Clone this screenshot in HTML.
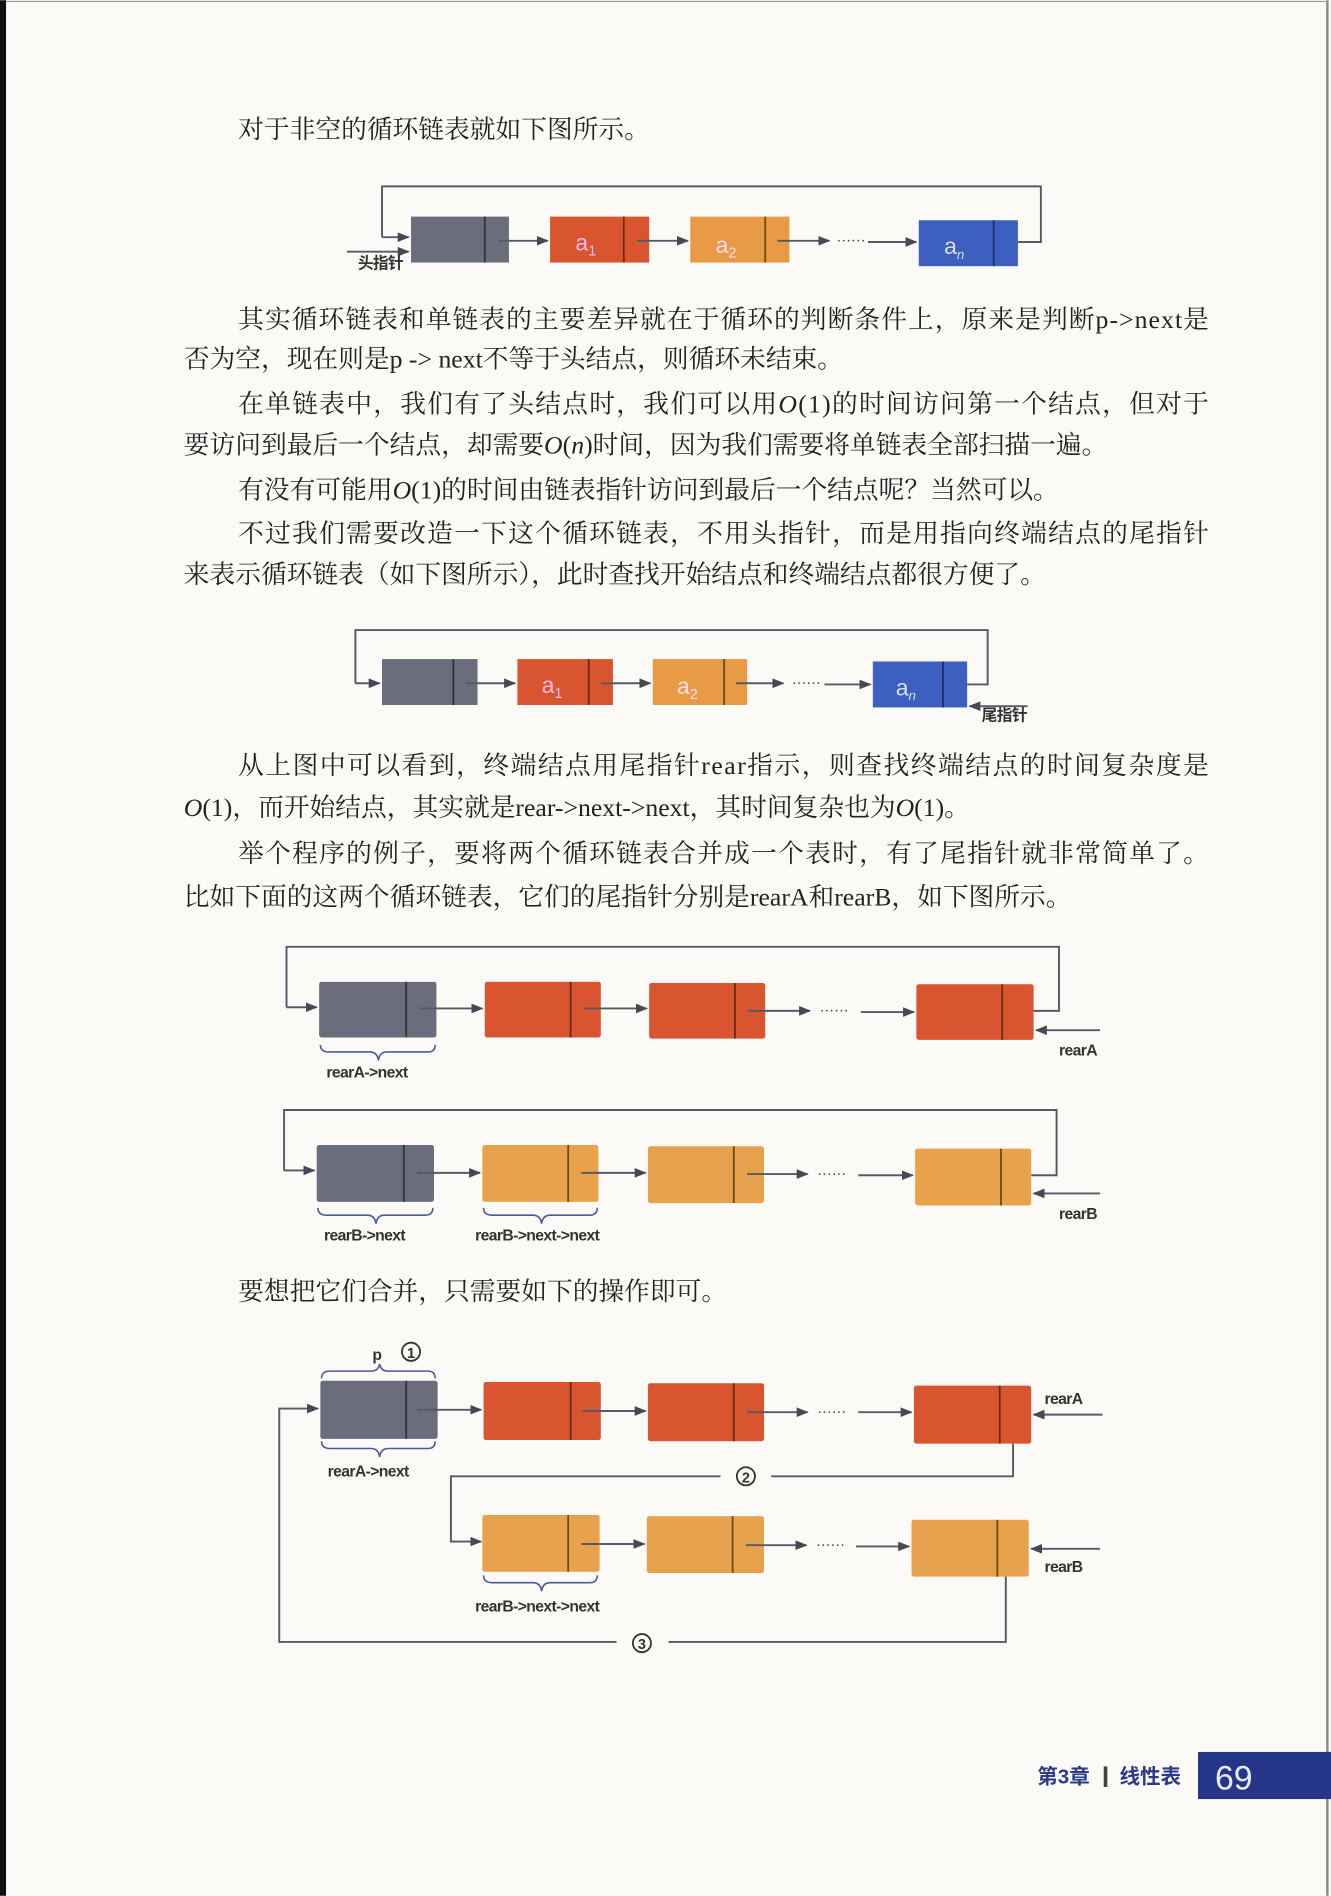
<!DOCTYPE html>
<html><head><meta charset="utf-8"><style>
html,body{margin:0;padding:0;background:#fbfaf7;}
svg{display:block}
.t{font-family:"Liberation Serif","Noto Serif CJK SC","Noto Sans CJK SC",serif;font-size:21.3px;fill:#222;}
.l{font-family:"Liberation Sans","Noto Sans CJK SC",sans-serif;font-size:13px;font-weight:bold;fill:#333;letter-spacing:-0.5px}
.ln{stroke:#555b66;stroke-width:1.6;fill:none}
</style></head><body>
<svg width="1331" height="1896" viewBox="0 0 1101 1568" xmlns="http://www.w3.org/2000/svg">
<defs>
<marker id="a" markerWidth="10" markerHeight="10" refX="9" refY="5" orient="auto" markerUnits="userSpaceOnUse"><path d="M0,1 L10,5 L0,9 Z" fill="#444a55"/></marker>
</defs>
<rect x="0" y="0" width="1101" height="1568" fill="#fbfaf7"/>
<rect x="0" y="0" width="5" height="1568" fill="#111"/>
<line x1="1098" y1="0" x2="1098" y2="1568" stroke="#888" stroke-width="2"/>
<line x1="5" y1="1" x2="1098" y2="1" stroke="#999" stroke-width="1"/>

<text class="t" x="197" y="114">对于非空的循环链表就如下图所示。</text>

<!-- diagram 1 -->
<path class="ln" d="M316,196 L316,154 L861,154 L861,200 L842,200"/>
<line class="ln" x1="316" y1="196" x2="338" y2="196" marker-end="url(#a)"/>
<line class="ln" x1="287" y1="208" x2="338" y2="208" marker-end="url(#a)"/>
<text class="l" x="296" y="222">头指针</text>
<rect x="340" y="179" width="81" height="38" fill="#6b6d7c"/><line x1="401" y1="179" x2="401" y2="217" stroke="#333" stroke-width="1.5"/>
<rect x="455" y="179" width="82" height="38" fill="#d9552f"/><line x1="516" y1="179" x2="516" y2="217" stroke="#6a2a1a" stroke-width="1.5"/>
<rect x="571" y="179" width="82" height="38" fill="#e89a45"/><line x1="633" y1="179" x2="633" y2="217" stroke="#6a4a1a" stroke-width="1.5"/>
<rect x="760" y="182" width="82" height="38" fill="#3d5fc0"/><line x1="822" y1="182" x2="822" y2="220" stroke="#1d2f70" stroke-width="1.5"/>
<text x="476" y="207" font-family="Liberation Sans,sans-serif" font-size="19" fill="#fbe">a<tspan font-size="12" dy="4">1</tspan></text>
<text x="592" y="209" font-family="Liberation Sans,sans-serif" font-size="19" fill="#fde">a<tspan font-size="12" dy="4">2</tspan></text>
<text x="781" y="210" font-family="Liberation Sans,sans-serif" font-size="19" fill="#dde">a<tspan font-size="11" dy="4" font-style="italic">n</tspan></text>
<line class="ln" x1="412" y1="199" x2="453" y2="199" marker-end="url(#a)"/>
<line class="ln" x1="527" y1="199" x2="569" y2="199" marker-end="url(#a)"/>
<line class="ln" x1="643" y1="199" x2="686" y2="199" marker-end="url(#a)"/>
<text x="692" y="203" font-size="12" fill="#444">······</text>
<line class="ln" x1="718" y1="200" x2="758" y2="200" marker-end="url(#a)"/>

<text class="t" x="197" y="271" textLength="803">其实循环链表和单链表的主要差异就在于循环的判断条件上，原来是判断p-&gt;next是</text>
<text class="t" x="152" y="304">否为空，现在则是p -&gt; next不等于头结点，则循环未结束。</text>
<text class="t" x="197" y="341" textLength="803">在单链表中，我们有了头结点时，我们可以用<tspan font-style="italic">O</tspan>(1)的时间访问第一个结点，但对于</text>
<text class="t" x="152" y="375">要访问到最后一个结点，却需要<tspan font-style="italic">O</tspan>(<tspan font-style="italic">n</tspan>)时间，因为我们需要将单链表全部扫描一遍。</text>
<text class="t" x="197" y="412">有没有可能用<tspan font-style="italic">O</tspan>(1)的时间由链表指针访问到最后一个结点呢？当然可以。</text>
<text class="t" x="197" y="448" textLength="803">不过我们需要改造一下这个循环链表，不用头指针，而是用指向终端结点的尾指针</text>
<text class="t" x="152" y="482">来表示循环链表（如下图所示），此时查找开始结点和终端结点都很方便了。</text>

<!-- diagram 2 -->
<path class="ln" d="M294,565 L294,521 L817,521 L817,566 L800,566"/>
<line class="ln" x1="294" y1="565" x2="314" y2="565" marker-end="url(#a)"/>
<rect x="316" y="545" width="79" height="38" fill="#6b6d7c"/><line x1="375" y1="545" x2="375" y2="583" stroke="#333" stroke-width="1.5"/>
<rect x="428" y="545" width="79" height="38" fill="#d9552f"/><line x1="487" y1="545" x2="487" y2="583" stroke="#6a2a1a" stroke-width="1.5"/>
<rect x="540" y="545" width="78" height="38" fill="#e89a45"/><line x1="599" y1="545" x2="599" y2="583" stroke="#6a4a1a" stroke-width="1.5"/>
<rect x="722" y="547" width="78" height="38" fill="#3d5fc0"/><line x1="780" y1="547" x2="780" y2="585" stroke="#1d2f70" stroke-width="1.5"/>
<text x="448" y="573" font-family="Liberation Sans,sans-serif" font-size="19" fill="#fbe">a<tspan font-size="12" dy="4">1</tspan></text>
<text x="560" y="574" font-family="Liberation Sans,sans-serif" font-size="19" fill="#fde">a<tspan font-size="12" dy="4">2</tspan></text>
<text x="741" y="575" font-family="Liberation Sans,sans-serif" font-size="19" fill="#dde">a<tspan font-size="11" dy="4" font-style="italic">n</tspan></text>
<line class="ln" x1="385" y1="565" x2="426" y2="565" marker-end="url(#a)"/>
<line class="ln" x1="497" y1="565" x2="538" y2="565" marker-end="url(#a)"/>
<line class="ln" x1="609" y1="565" x2="648" y2="565" marker-end="url(#a)"/>
<text x="655" y="569" font-size="12" fill="#444">······</text>
<line class="ln" x1="682" y1="566" x2="720" y2="566" marker-end="url(#a)"/>
<line class="ln" x1="850" y1="584" x2="802" y2="584" marker-end="url(#a)"/>
<text class="l" x="812" y="596">尾指针</text>

<text class="t" x="197" y="640" textLength="803">从上图中可以看到，终端结点用尾指针rear指示，则查找终端结点的时间复杂度是</text>
<text class="t" x="152" y="675"><tspan font-style="italic">O</tspan>(1)，而开始结点，其实就是rear-&gt;next-&gt;next，其时间复杂也为<tspan font-style="italic">O</tspan>(1)。</text>
<text class="t" x="197" y="713" textLength="803">举个程序的例子，要将两个循环链表合并成一个表时，有了尾指针就非常简单了。</text>
<text class="t" x="152" y="749">比如下面的这两个循环链表，它们的尾指针分别是rearA和rearB，如下图所示。</text>

<!-- diagram 3 -->
<path class="ln" d="M237,833 L237,783 L876,783 L876,836 L855,836"/>
<line class="ln" x1="237" y1="833" x2="262" y2="833" marker-end="url(#a)"/>
<rect x="264" y="812" width="97" height="46" fill="#6b6d7c" rx="2"/><line x1="336" y1="812" x2="336" y2="858" stroke="#333" stroke-width="1.5"/>
<rect x="401" y="812" width="96" height="46" fill="#d9552f" rx="2"/><line x1="472" y1="812" x2="472" y2="858" stroke="#6a2a1a" stroke-width="1.5"/>
<rect x="537" y="813" width="96" height="46" fill="#d9552f" rx="2"/><line x1="608" y1="813" x2="608" y2="859" stroke="#6a2a1a" stroke-width="1.5"/>
<rect x="758" y="814" width="97" height="46" fill="#d9552f" rx="2"/><line x1="829" y1="814" x2="829" y2="860" stroke="#6a2a1a" stroke-width="1.5"/>
<line class="ln" x1="347" y1="834" x2="399" y2="834" marker-end="url(#a)"/>
<line class="ln" x1="483" y1="834" x2="535" y2="834" marker-end="url(#a)"/>
<line class="ln" x1="619" y1="836" x2="670" y2="836" marker-end="url(#a)"/>
<text x="678" y="840" font-size="12" fill="#444">······</text>
<line class="ln" x1="712" y1="837" x2="756" y2="837" marker-end="url(#a)"/>
<line class="ln" x1="910" y1="852" x2="857" y2="852" marker-end="url(#a)"/>
<text class="l" x="876" y="873">rearA</text>
<path d="M265,864 Q265,870 272,870 L306,870 Q312,870 313,877 Q314,870 320,870 L354,870 Q360,870 360,864" stroke="#4a5aa0" stroke-width="1.3" fill="none"/>
<text class="l" x="270" y="891">rearA-&gt;next</text>

<!-- diagram 4 -->
<path class="ln" d="M235,968 L235,918 L874,918 L874,972 L853,972"/>
<line class="ln" x1="235" y1="968" x2="260" y2="968" marker-end="url(#a)"/>
<rect x="262" y="947" width="97" height="47" fill="#6b6d7c" rx="2"/><line x1="334" y1="947" x2="334" y2="994" stroke="#333" stroke-width="1.5"/>
<rect x="399" y="947" width="96" height="47" fill="#e8a24d" rx="2"/><line x1="470" y1="947" x2="470" y2="994" stroke="#6a4a1a" stroke-width="1.5"/>
<rect x="536" y="948" width="96" height="47" fill="#e8a24d" rx="2"/><line x1="607" y1="948" x2="607" y2="995" stroke="#6a4a1a" stroke-width="1.5"/>
<rect x="757" y="950" width="96" height="47" fill="#e8a24d" rx="2"/><line x1="828" y1="950" x2="828" y2="997" stroke="#6a4a1a" stroke-width="1.5"/>
<line class="ln" x1="345" y1="970" x2="397" y2="970" marker-end="url(#a)"/>
<line class="ln" x1="481" y1="970" x2="534" y2="970" marker-end="url(#a)"/>
<line class="ln" x1="618" y1="971" x2="668" y2="971" marker-end="url(#a)"/>
<text x="676" y="975" font-size="12" fill="#444">······</text>
<line class="ln" x1="710" y1="972" x2="755" y2="972" marker-end="url(#a)"/>
<line class="ln" x1="910" y1="987" x2="855" y2="987" marker-end="url(#a)"/>
<text class="l" x="876" y="1008">rearB</text>
<path d="M263,999 Q263,1005 270,1005 L304,1005 Q310,1005 311,1012 Q312,1005 318,1005 L352,1005 Q358,1005 358,999" stroke="#4a5aa0" stroke-width="1.3" fill="none"/>
<path d="M400,999 Q400,1005 407,1005 L441,1005 Q447,1005 448,1012 Q449,1005 455,1005 L488,1005 Q494,1005 494,999" stroke="#4a5aa0" stroke-width="1.3" fill="none"/>
<text class="l" x="268" y="1026">rearB-&gt;next</text>
<text class="l" x="393" y="1026">rearB-&gt;next-&gt;next</text>

<text class="t" x="197" y="1075">要想把它们合并，只需要如下的操作即可。</text>

<!-- diagram 5 -->
<text class="l" x="308" y="1125" font-size="15">p</text>
<circle cx="340" cy="1118" r="7.5" fill="none" stroke="#333" stroke-width="1.5"/><text x="340" y="1123" text-anchor="middle" font-family="Liberation Sans,sans-serif" font-size="12" font-weight="bold" fill="#333">1</text>
<path d="M266,1140 Q266,1134 273,1134 L307,1134 Q313,1134 314,1128 Q315,1134 321,1134 L354,1134 Q360,1134 360,1140" stroke="#4a5aa0" stroke-width="1.3" fill="none"/>
<rect x="265" y="1142" width="97" height="48" fill="#6b6d7c" rx="2"/><line x1="336" y1="1142" x2="336" y2="1190" stroke="#333" stroke-width="1.5"/>
<rect x="400" y="1143" width="97" height="48" fill="#d9552f" rx="2"/><line x1="472" y1="1143" x2="472" y2="1191" stroke="#6a2a1a" stroke-width="1.5"/>
<rect x="536" y="1144" width="96" height="48" fill="#d9552f" rx="2"/><line x1="607" y1="1144" x2="607" y2="1192" stroke="#6a2a1a" stroke-width="1.5"/>
<rect x="756" y="1146" width="97" height="48" fill="#d9552f" rx="2"/><line x1="827" y1="1146" x2="827" y2="1194" stroke="#6a2a1a" stroke-width="1.5"/>
<line class="ln" x1="345" y1="1166" x2="398" y2="1166" marker-end="url(#a)"/>
<line class="ln" x1="482" y1="1167" x2="534" y2="1167" marker-end="url(#a)"/>
<line class="ln" x1="618" y1="1168" x2="668" y2="1168" marker-end="url(#a)"/>
<text x="676" y="1172" font-size="12" fill="#444">······</text>
<line class="ln" x1="710" y1="1168" x2="754" y2="1168" marker-end="url(#a)"/>
<line class="ln" x1="912" y1="1170" x2="855" y2="1170" marker-end="url(#a)"/>
<text class="l" x="864" y="1161">rearA</text>
<path d="M266,1192 Q266,1198 273,1198 L307,1198 Q313,1198 314,1205 Q315,1198 321,1198 L354,1198 Q360,1198 360,1192" stroke="#4a5aa0" stroke-width="1.3" fill="none"/>
<text class="l" x="271" y="1221">rearA-&gt;next</text>
<path class="ln" d="M838,1194 L838,1221 L638,1221"/>
<path class="ln" d="M596,1221 L373,1221 L373,1275 L398,1275" marker-end="url(#a)"/>
<circle cx="617" cy="1221" r="7.5" fill="none" stroke="#333" stroke-width="1.5"/><text x="617" y="1226" text-anchor="middle" font-family="Liberation Sans,sans-serif" font-size="12" font-weight="bold" fill="#333">2</text>
<rect x="399" y="1253" width="97" height="47" fill="#e8a24d" rx="2"/><line x1="470" y1="1253" x2="470" y2="1300" stroke="#6a4a1a" stroke-width="1.5"/>
<rect x="535" y="1254" width="97" height="47" fill="#e8a24d" rx="2"/><line x1="606" y1="1254" x2="606" y2="1301" stroke="#6a4a1a" stroke-width="1.5"/>
<rect x="754" y="1257" width="97" height="47" fill="#e8a24d" rx="2"/><line x1="825" y1="1257" x2="825" y2="1304" stroke="#6a4a1a" stroke-width="1.5"/>
<line class="ln" x1="481" y1="1277" x2="533" y2="1277" marker-end="url(#a)"/>
<line class="ln" x1="617" y1="1278" x2="667" y2="1278" marker-end="url(#a)"/>
<text x="675" y="1282" font-size="12" fill="#444">······</text>
<line class="ln" x1="708" y1="1279" x2="752" y2="1279" marker-end="url(#a)"/>
<line class="ln" x1="910" y1="1281" x2="853" y2="1281" marker-end="url(#a)"/>
<text class="l" x="864" y="1300">rearB</text>
<path d="M400,1303 Q400,1309 407,1309 L441,1309 Q447,1309 448,1316 Q449,1309 455,1309 L488,1309 Q494,1309 494,1303" stroke="#4a5aa0" stroke-width="1.3" fill="none"/>
<text class="l" x="393" y="1333">rearB-&gt;next-&gt;next</text>
<path class="ln" d="M832,1304 L832,1358 L553,1358"/>
<path class="ln" d="M510,1358 L231,1358 L231,1165 L263,1165" marker-end="url(#a)"/>
<circle cx="531" cy="1359" r="7.5" fill="none" stroke="#333" stroke-width="1.5"/><text x="531" y="1364" text-anchor="middle" font-family="Liberation Sans,sans-serif" font-size="12" font-weight="bold" fill="#333">3</text>

<!-- footer -->
<text x="858" y="1475" font-family="Liberation Sans,'Noto Sans CJK SC',sans-serif" font-size="17" font-weight="bold" fill="#2b3a8a">第3章</text>
<rect x="913" y="1461" width="3" height="17" fill="#444"/>
<text x="926" y="1475" font-family="Liberation Sans,'Noto Sans CJK SC',sans-serif" font-size="17" font-weight="bold" fill="#2b3a8a">线性表</text>
<rect x="991" y="1449" width="110" height="39" fill="#253587"/>
<text x="1005" y="1480" font-family="Liberation Sans,sans-serif" font-size="28" fill="#e8ebf5">69</text>
</svg>
</body></html>
